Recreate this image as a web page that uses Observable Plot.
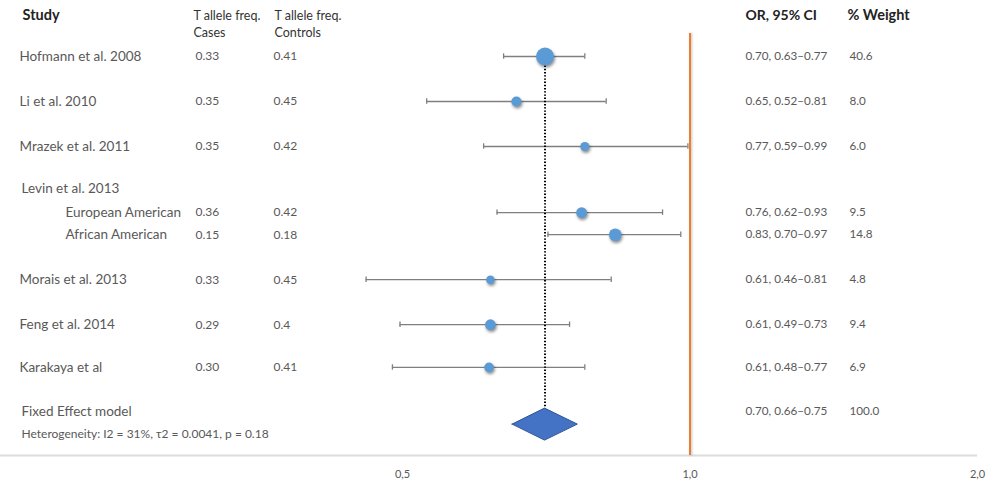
<!DOCTYPE html>
<html>
<head>
<meta charset="utf-8">
<script src="https://cdn.jsdelivr.net/npm/d3@7"></script>
<script src="https://cdn.jsdelivr.net/npm/@observablehq/plot@0.6"></script>
<style>
  html, body { margin: 0; padding: 0; background: #fff; }
  .fdot circle { filter: drop-shadow(1px 2px 1.5px rgba(0,0,0,0.45)); }
  .orange line { filter: drop-shadow(1px 0px 1px rgba(0,0,0,0.25)); }
</style>
</head>
<body>
<div id="chart"></div>
<script>
// ---- data ----
const studies = ["Hofmann et al. 2008", "Li et al. 2010", "Mrazek et al. 2011", "European American", "African American", "Morais et al. 2013", "Feng et al. 2014", "Karakaya et al"];
const subgroupOf = [null, null, null, "Levin et al. 2013", "Levin et al. 2013", null, null, null];
const casesFreq = ["0.33", "0.35", "0.35", "0.36", "0.15", "0.33", "0.29", "0.30"];
const controlsFreq = ["0.41", "0.45", "0.42", "0.42", "0.18", "0.45", "0.4", "0.41"];
const orLabels = ["0.70, 0.63–0.77", "0.65, 0.52–0.81", "0.77, 0.59–0.99", "0.76, 0.62–0.93", "0.83, 0.70–0.97", "0.61, 0.46–0.81", "0.61, 0.49–0.73", "0.61, 0.48–0.77"];
const weights = [40.6, 8.0, 6.0, 9.5, 14.8, 4.8, 9.4, 6.9];
const weightLabels = ["40.6", "8.0", "6.0", "9.5", "14.8", "4.8", "9.4", "6.9"];
// values as drawn in the picture
const orPlot = [0.705, 0.658, 0.776, 0.77, 0.835, 0.618, 0.618, 0.616];
const ciLow  = [0.638, 0.53, 0.608, 0.628, 0.71, 0.458, 0.497, 0.488];
const ciHigh = [0.776, 0.817, 0.995, 0.936, 0.978, 0.827, 0.748, 0.776];
const fixedLabel = "Fixed Effect model";
const fixedOR = 0.705, fixedLow = 0.652, fixedHigh = 0.763;
const fixedORLabel = "0.70, 0.66–0.75";
const fixedWeightLabel = "100.0";
const heterogeneity = "Heterogeneity: I2 = 31%, τ2 = 0.0041, p = 0.18";
const xTicks = [0.5, 1, 2];

// ---- layout (row slots, 45px per slot) ----
const marginTop = 11, frameBottom = 455, rowH = 45;
const yMax = (frameBottom - marginTop) / rowH;
const rowSlot = [1, 2, 3, 4.47, 4.96, 5.96, 6.96, 7.91];
const groupSlot = 3.93;
const fixedTextSlot = 8.89, diamondSlot = 9.18, hetSlot = 9.4;
const headerSlot = 0.09, subHeaderSlot = 0.47;

const rows = studies.map((s, i) => ({
  study: s, indent: subgroupOf[i] != null, cases: casesFreq[i], controls: controlsFreq[i],
  orLabel: orLabels[i], weight: weights[i], weightLabel: weightLabels[i],
  or: orPlot[i], lo: ciLow[i], hi: ciHigh[i], slot: rowSlot[i]
}));
const groups = [...new Set(subgroupOf.filter(d => d != null))].map(g => ({label: g, slot: groupSlot}));
const diamondHalf = 16 / rowH;
const diamond = [
  {x: fixedLow, y1: diamondSlot, y2: diamondSlot},
  {x: fixedOR, y1: diamondSlot - diamondHalf, y2: diamondSlot + diamondHalf},
  {x: fixedHigh, y1: diamondSlot, y2: diamondSlot}
];

const txt = "#595959";
const font = "Lato, 'Open Sans', sans-serif";
const capH = 0.06;

const chart = Plot.plot({
  width: 997, height: 486,
  marginLeft: 0, marginRight: 20, marginTop: marginTop, marginBottom: 486 - frameBottom,
  style: {fontFamily: font, background: "#fff"},
  x: {type: "log", domain: [0.5, 2], range: [402, 977], axis: null},
  y: {domain: [0, yMax], reverse: true, axis: null},
  r: {type: "pow", exponent: 0.35, domain: [0, 40.6], range: [0, 9]},
  marks: [
    // baseline and axis
    Plot.ruleY([yMax], {stroke: "#dcdcdc", strokeWidth: 2}),
    Plot.axisX({ticks: xTicks, tickSize: 0, tickPadding: 15, fontSize: 11, color: txt,
      tickFormat: d => d.toFixed(1).replace(".", ",")}),
    // line of no effect
    Plot.ruleX([1], {x: d => d, y1: () => 0.49, y2: () => yMax, stroke: "#ED7D31", strokeWidth: 2, className: "orange"}),
    // CIs
    Plot.ruleY(rows, {y: "slot", x1: "lo", x2: "hi", stroke: "#7f7f7f", strokeWidth: 1.3}),
    Plot.ruleX(rows, {x: "lo", y1: d => d.slot - capH, y2: d => d.slot + capH, stroke: "#7f7f7f", strokeWidth: 1.3}),
    Plot.ruleX(rows, {x: "hi", y1: d => d.slot - capH, y2: d => d.slot + capH, stroke: "#7f7f7f", strokeWidth: 1.3}),
    // summary dotted line
    Plot.ruleX([fixedOR], {x: d => d, y1: () => rowSlot[0], y2: () => diamondSlot - diamondHalf, stroke: "#000", strokeWidth: 2, strokeDasharray: "1.4,1.8"}),
    // points
    Plot.dot(rows, {x: "or", y: "slot", r: "weight", fill: "#5B9BD5", className: "fdot"}),
    // diamond
    Plot.area(diamond, {x1: "x", y1: "y1", y2: "y2", fill: "#4472C4", stroke: "#2F5597", strokeWidth: 1}),
    // headers
    Plot.text(["Study"], {text: d => d, frameAnchor: "left", dx: 22, y: () => headerSlot, textAnchor: "start", fontWeight: "bold", fontSize: 14.5, fill: "#222"}),
    Plot.text(["T allele freq."], {text: d => d, frameAnchor: "left", dx: 193, y: () => headerSlot, textAnchor: "start", fontSize: 12.5, fill: "#333"}),
    Plot.text(["Cases"], {text: d => d, frameAnchor: "left", dx: 193, y: () => subHeaderSlot, textAnchor: "start", fontSize: 12.5, fill: "#333"}),
    Plot.text(["T allele freq."], {text: d => d, frameAnchor: "left", dx: 274, y: () => headerSlot, textAnchor: "start", fontSize: 12.5, fill: "#333"}),
    Plot.text(["Controls"], {text: d => d, frameAnchor: "left", dx: 274, y: () => subHeaderSlot, textAnchor: "start", fontSize: 12.5, fill: "#333"}),
    Plot.text(["OR, 95% CI"], {text: d => d, frameAnchor: "left", dx: 745, y: () => headerSlot, textAnchor: "start", fontWeight: "bold", fontSize: 14, fill: "#222"}),
    Plot.text(["% Weight"], {text: d => d, frameAnchor: "left", dx: 847, y: () => headerSlot, textAnchor: "start", fontWeight: "bold", fontSize: 14.5, fill: "#222"}),
    // row texts
    Plot.text(rows.filter(d => !d.indent), {text: "study", frameAnchor: "left", dx: 19, y: "slot", textAnchor: "start", fontSize: 13.5, fill: txt}),
    Plot.text(rows.filter(d => d.indent), {text: "study", frameAnchor: "left", dx: 65, y: "slot", textAnchor: "start", fontSize: 13.5, fill: txt}),
    Plot.text(groups, {text: "label", frameAnchor: "left", dx: 21, y: "slot", textAnchor: "start", fontSize: 13.5, fill: txt}),
    Plot.text(rows, {text: "cases", frameAnchor: "left", dx: 195, y: "slot", textAnchor: "start", fontSize: 12, fill: txt}),
    Plot.text(rows, {text: "controls", frameAnchor: "left", dx: 273, y: "slot", textAnchor: "start", fontSize: 12, fill: txt}),
    Plot.text(rows, {text: "orLabel", frameAnchor: "left", dx: 745, y: "slot", textAnchor: "start", fontSize: 11.7, fill: txt}),
    Plot.text(rows, {text: "weightLabel", frameAnchor: "left", dx: 849, y: "slot", textAnchor: "start", fontSize: 11.7, fill: txt}),
    // summary texts
    Plot.text([fixedLabel], {text: d => d, frameAnchor: "left", dx: 21, y: () => fixedTextSlot, textAnchor: "start", fontSize: 13.5, fill: txt}),
    Plot.text([heterogeneity], {text: d => d, frameAnchor: "left", dx: 21, y: () => hetSlot, textAnchor: "start", fontSize: 12, fill: txt}),
    Plot.text([fixedORLabel], {text: d => d, frameAnchor: "left", dx: 745, y: () => fixedTextSlot, textAnchor: "start", fontSize: 11.7, fill: txt}),
    Plot.text([fixedWeightLabel], {text: d => d, frameAnchor: "left", dx: 849, y: () => fixedTextSlot, textAnchor: "start", fontSize: 11.7, fill: txt})
  ]
});
document.getElementById("chart").appendChild(chart);
</script>
</body>
</html>
